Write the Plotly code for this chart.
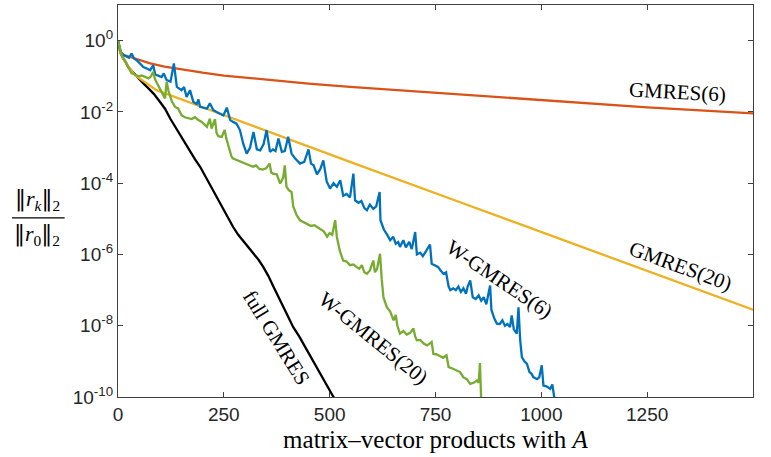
import numpy as np
import plotly.graph_objects as go

# ---------------- data (x = matrix-vector products, values = log10 of relative residual) ----------------
full_x = [0, 6, 12, 18, 24, 36, 48, 60, 72, 85, 98, 111, 124, 135, 146, 158, 170, 182, 194, 207, 220, 233,
          246, 259, 272, 284, 296, 308, 320, 332, 343, 355, 367, 379, 391, 403, 414, 428, 442, 456, 470,
          484, 497, 509, 515]
full_log = [0, -0.35, -0.5, -0.6, -0.74, -0.9, -1.05, -1.2, -1.34, -1.5, -1.7, -1.91, -2.2, -2.42, -2.65,
            -2.89, -3.1, -3.33, -3.54, -3.82, -4.1, -4.39, -4.68, -4.95, -5.23, -5.45, -5.63, -5.8, -5.98,
            -6.15, -6.35, -6.6, -6.9, -7.2, -7.5, -7.8, -8.04, -8.3, -8.6, -8.9, -9.2, -9.48, -9.75, -10.0, -10.1]

g6_x = [0, 6, 16, 50, 76, 110, 150, 200, 250, 300, 347, 400, 450, 548, 650, 750, 1000, 1250, 1500]
g6_log = [0, -0.35, -0.41, -0.55, -0.64, -0.73, -0.81, -0.9, -0.98, -1.04, -1.10, -1.155, -1.205, -1.30,
          -1.385, -1.465, -1.68, -1.87, -2.04]

g20_x = [0, 6, 12, 20, 40, 91, 200, 335, 548, 800, 1044, 1250, 1500]
g20_log = [0, -0.35, -0.5, -0.65, -0.97, -1.39, -1.87, -2.47, -3.40, -4.5, -5.56, -6.46, -7.55]

w6_x = [0, 6, 12, 20, 26, 32, 38, 44, 52, 60, 68, 76, 83, 88, 96, 103, 108, 115, 124, 132, 139, 145, 150,
        156, 162, 170, 178, 186, 190, 194, 202, 210, 217, 225, 233, 241, 249, 257, 265, 272, 280, 288, 296,
        304, 312, 320, 328, 336, 344, 351, 359, 366, 372, 379, 387, 394, 402, 410, 418, 430, 440, 450, 456,
        462, 470, 478, 485, 493, 501, 509, 517, 525, 532, 540, 548, 556, 560, 568, 575, 582, 588, 595, 603,
        610, 618, 620, 628, 636, 643, 650, 656, 662, 666, 674, 680, 688, 694, 702, 706, 714, 720, 728, 737,
        741, 748, 756, 762, 769, 775, 781, 785, 792, 798, 804, 810, 816, 822, 826, 832, 838, 845, 852, 858,
        864, 870, 879, 882, 889, 895, 902, 908, 914, 920, 926, 930, 935, 942, 946, 950, 954, 960, 966, 972,
        977, 981, 990, 995, 1001, 1005, 1012, 1021, 1026, 1031]
w6_log = [0, -0.3, -0.4, -0.45, -0.48, -0.36, -0.5, -0.55, -0.65, -0.74, -0.78, -0.83, -0.69, -0.95, -0.99,
          -1.02, -0.92, -1.11, -1.15, -0.64, -1.30, -1.35, -1.39, -1.30, -1.58, -1.39, -1.72, -1.78, -1.65,
          -1.86, -1.88, -1.91, -1.76, -1.95, -2.0, -2.05, -2.1, -1.88, -2.23, -2.28, -2.33, -2.51, -2.9, -3.17,
          -3.0, -2.56, -3.05, -3.08, -2.9, -2.51, -3.12, -3.05, -3.1, -2.75, -3.12, -3.1, -2.70, -3.17, -3.3,
          -3.45, -3.4, -3.05, -3.45, -3.5, -3.75, -3.6, -3.36, -3.95, -4.15, -4.0, -4.1, -3.92, -4.35, -4.3,
          -4.4, -3.73, -4.48, -4.55, -4.5, -4.7, -4.76, -4.6, -4.72, -4.65, -4.25, -5.04, -5.3, -5.45, -5.6,
          -5.5, -5.7, -5.65, -5.79, -5.6, -5.8, -5.65, -5.85, -5.37, -6.0, -5.95, -6.05, -5.9, -5.72, -6.26,
          -6.3, -6.35, -6.45, -6.54, -6.5, -6.9, -7.0, -6.95, -7.0, -6.9, -7.05, -6.95, -7.1, -6.9, -6.73,
          -7.2, -7.25, -7.15, -7.3, -7.2, -7.4, -6.87, -7.55, -7.8, -7.94, -7.95, -7.85, -8.0, -7.95, -8.04,
          -7.71, -8.1, -8.22, -7.48, -8.4, -8.88, -9.0, -9.07, -9.3, -9.35, -9.44, -9.5, -9.45, -9.11, -9.68,
          -9.7, -9.77, -9.65, -10.05]

w20_x = [0, 4, 9, 16, 24, 32, 40, 48, 56, 64, 72, 78, 83, 88, 95, 103, 111, 115, 119, 127, 135, 142, 150,
         158, 166, 174, 182, 190, 198, 205, 210, 217, 221, 229, 233, 237, 245, 252, 256, 262, 268, 272, 280,
         288, 296, 304, 312, 319, 326, 334, 342, 350, 358, 362, 366, 375, 383, 390, 394, 398, 404, 410, 414,
         422, 430, 440, 448, 456, 464, 470, 478, 486, 494, 500, 506, 513, 517, 524, 532, 540, 548, 556, 563,
         570, 576, 582, 588, 595, 603, 607, 612, 619, 623, 627, 635, 643, 651, 656, 660, 666, 674, 682, 690,
         698, 702, 706, 714, 722, 730, 736, 741, 745, 752, 760, 768, 776, 781, 790, 800, 808, 816, 824, 832,
         840, 848, 852, 855, 858]
w20_log = [0, -0.2, -0.41, -0.55, -0.75, -0.92, -0.95, -1.0, -0.98, -1.03, -1.06, -1.0, -0.88, -1.1, -1.25,
           -1.45, -1.62, -1.16, -1.4, -1.7, -1.86, -1.9, -2.09, -2.15, -2.18, -2.2, -2.15, -2.23, -2.28, -2.37,
           -2.42, -2.19, -2.47, -2.2, -2.6, -2.68, -2.7, -2.51, -2.75, -3.0, -3.25, -3.31, -3.35, -3.4, -3.42,
           -3.48, -3.5, -3.54, -3.5, -3.6, -3.62, -3.58, -3.45, -3.7, -3.73, -3.75, -4.01, -3.85, -3.5, -4.1,
           -4.2, -4.25, -4.65, -4.9, -5.04, -5.1, -5.15, -5.2, -5.18, -5.23, -5.3, -5.35, -5.5, -5.4, -5.45,
           -5.04, -5.51, -5.9, -6.17, -6.2, -6.3, -6.28, -6.35, -6.4, -6.3, -6.5, -6.54, -6.45, -6.17, -6.5,
           -6.4, -5.98, -6.7, -7.2, -7.48, -7.6, -7.85, -7.7, -8.0, -8.22, -8.15, -8.25, -8.2, -8.08, -8.3,
           -8.41, -8.4, -8.5, -8.55, -8.5, -8.46, -8.79, -8.8, -8.85, -8.9, -8.83, -9.16, -9.2, -9.25, -9.3,
           -9.45, -9.5, -9.63, -9.6, -9.54, -9.6, -9.05, -10.1]

x_ticks = [0, 250, 500, 750, 1000, 1250, 1500]
y_tick_exps = [0, -2, -4, -6, -8, -10]

# ---------------- figure ----------------
fig = go.Figure()

series = [
    (full_x, full_log, "#000000", "full GMRES"),
    (g6_x, g6_log, "#D95319", "GMRES(6)"),
    (g20_x, g20_log, "#EDB120", "GMRES(20)"),
    (w6_x, w6_log, "#0072BD", "W-GMRES(6)"),
    (w20_x, w20_log, "#77AC30", "W-GMRES(20)"),
]
for xs, logs, col, name in series:
    fig.add_trace(go.Scatter(
        x=xs, y=[10.0 ** v for v in logs], mode="lines",
        line=dict(color=col, width=2.3), name=name, showlegend=False,
    ))

SERIF = "Liberation Serif, Times New Roman, serif"
SANS = "Liberation Sans, Arial, Helvetica, sans-serif"

labels = [
    ("GMRES(6)", 1321, -1.45, 3),
    ("GMRES(20)", 1328, -6.31, 20),
    ("W-GMRES(6)", 900, -6.7, 34),
    ("W-GMRES(20)", 603, -8.34, 39),
    ("full GMRES", 375, -8.34, 58),
]
for txt, ax_, ay_, ang in labels:
    fig.add_annotation(x=ax_, y=ay_, xref="x", yref="y", text=txt, showarrow=False,
                       textangle=ang, font=dict(family=SERIF, size=21, color="#000000"),
                       xanchor="center", yanchor="middle")

# y-axis label as a fraction
BAR = "<span style='font-family:DejaVu Serif'>‖</span>"
fig.add_annotation(xref="paper", yref="paper", x=-0.127, y=0.502,
                   text=BAR + "<i>r<sub>k</sub></i>" + BAR + "<sub>2</sub>", showarrow=False,
                   font=dict(family=SERIF, size=22, color="#000000"), xanchor="center", yanchor="middle")
fig.add_annotation(xref="paper", yref="paper", x=-0.127, y=0.412,
                   text=BAR + "<i>r</i><sub>0</sub>" + BAR + "<sub>2</sub>", showarrow=False,
                   font=dict(family=SERIF, size=22, color="#000000"), xanchor="center", yanchor="middle")
fig.add_shape(type="line", xref="paper", yref="paper", x0=-0.167, x1=-0.084, y0=0.457, y1=0.457,
              line=dict(color="#000000", width=1.2))

fig.update_layout(
    width=771, height=457,
    margin=dict(l=118, r=18, t=5, b=60, autoexpand=False),
    paper_bgcolor="white", plot_bgcolor="white",
    font=dict(family=SANS, size=18, color="#262626"),
    xaxis=dict(
        range=[0, 1500], tickvals=x_ticks, ticktext=[str(v) for v in x_ticks],
        ticks="inside", ticklen=5, tickwidth=1, tickcolor="#404040",
        showline=True, linecolor="#404040", linewidth=1.3, mirror="ticks",
        showgrid=False, zeroline=False, automargin=False,
        tickfont=dict(family=SANS, size=19, color="#262626"),
        title=dict(text="matrix–vector products with <i>A</i>",
                   font=dict(family=SERIF, size=25, color="#000000"), standoff=6),
    ),
    yaxis=dict(
        type="log", range=[-10, 1],
        tickvals=[10.0 ** e for e in y_tick_exps],
        ticktext=["10<sup>%d</sup>" % e for e in y_tick_exps],
        ticks="inside", ticklen=5, tickwidth=1, tickcolor="#404040",
        showline=True, linecolor="#404040", linewidth=1.3, mirror="ticks",
        showgrid=False, zeroline=False, automargin=False,
        tickfont=dict(family=SANS, size=19, color="#262626"),
    ),
)

fig.write_html("out.html", config={"displayModeBar": False},
               post_script="document.body.style.margin='0';document.body.style.padding='0';")
